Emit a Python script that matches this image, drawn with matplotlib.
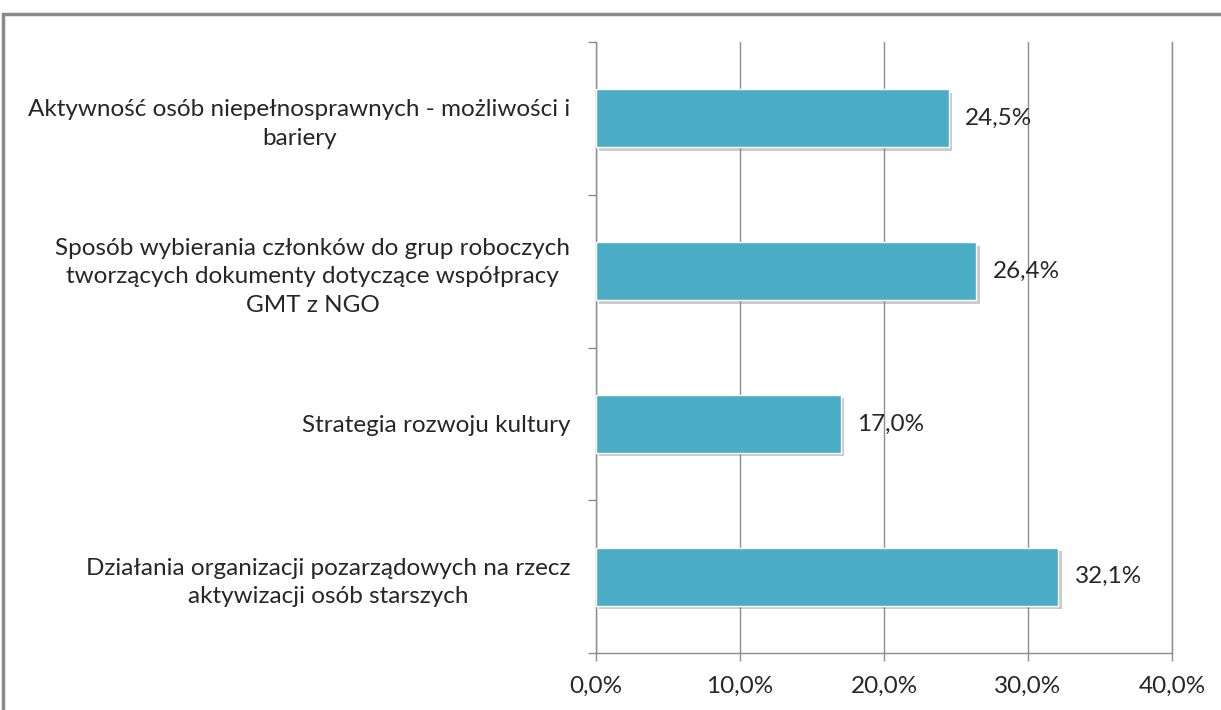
import matplotlib.pyplot as plt
import matplotlib.patheffects as pe
from matplotlib.patches import Rectangle

# Data (top to bottom as shown in the chart)
categories = [
    "Aktywność osób niepełnosprawnych - możliwości i\nbariery",
    "Sposób wybierania członków do grup roboczych\ntworzących dokumenty dotyczące współpracy\nGMT z NGO",
    "Strategia rozwoju kultury",
    "Działania organizacji pozarządowych na rzecz\naktywizacji osób starszych",
]
values = [24.5, 26.4, 17.0, 32.1]
xticks = [0, 10, 20, 30, 40]

plt.rcParams['font.family'] = ['Lato', 'DejaVu Sans']

bar_color = '#4BACC6'
grid_color = '#8c8c8c'
text_color = '#262626'
fs = 17.5

fig = plt.figure(figsize=(12.21, 7.10), dpi=100)
ax = fig.add_axes([596 / 1221, 1 - 653 / 710, 576 / 1221, (653 - 42) / 710])

pos = list(range(len(categories)))
bars = ax.barh(pos, values, height=0.38, color=bar_color,
               edgecolor='white', linewidth=1, zorder=3)
for b in bars:
    b.set_path_effects([pe.SimplePatchShadow(offset=(2.5, -2.5), shadow_rgbFace='#7f7f7f', alpha=0.4),
                        pe.Normal()])

# value labels
for y, v in zip(pos, values):
    ax.text(v + 1.15, y, f"{v:.1f}%".replace('.', ','), va='center', ha='left',
            fontsize=fs, color=text_color, zorder=4)

ax.set_xlim(0, 40)
ax.set_ylim(len(categories) - 0.5, -0.5)

# x axis
ax.set_xticks(xticks)
ax.set_xticklabels([f"{t:.1f}%".replace('.', ',') for t in xticks], fontsize=fs, color=text_color)
ax.tick_params(axis='x', length=6, width=1, color=grid_color, pad=10.5)
ax.xaxis.grid(True, color=grid_color, linewidth=1, zorder=0)

# y axis: labels at centres, ticks at category boundaries
ax.set_yticks(pos)
ax.set_yticklabels(categories, fontsize=fs, color=text_color, linespacing=1.45)
for lab in ax.get_yticklabels():
    lab.set_multialignment('center')
ax.tick_params(axis='y', which='major', length=0, pad=18.5)
ax.set_yticks([p - 0.5 for p in pos] + [pos[-1] + 0.5], minor=True)
ax.tick_params(axis='y', which='minor', length=6, width=1, color=grid_color)

ax.spines['top'].set_visible(False)
for side in ['left', 'bottom', 'right']:
    ax.spines[side].set_color(grid_color)
    ax.spines[side].set_linewidth(1)
ax.set_axisbelow(True)

# outer frame of the chart area
frame = Rectangle((3 / 1221, -0.2), 1.2, (1 - 14 / 710) + 0.2,
                  transform=fig.transFigure, fill=False, edgecolor='#8a8a8a', linewidth=2.5)
fig.patches.append(frame)

fig.savefig('out.png', dpi=100, facecolor='white')
